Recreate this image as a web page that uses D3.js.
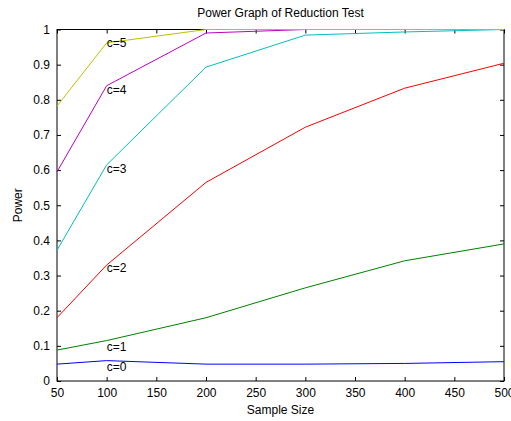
<!DOCTYPE html>
<html>
<head>
<meta charset="utf-8">
<script src="https://cdn.jsdelivr.net/npm/d3@7"></script>
<style>
  body { margin: 0; background: #fff; overflow: hidden; }
  text { font-family: "Liberation Sans", Arial, sans-serif; fill: #000; }
</style>
</head>
<body>
<script>
// sample sizes on the x axis
var sampleSizes = [50, 100, 200, 300, 400, 500];

// power for each effect size c
var powerC0 = [0.048, 0.058, 0.048, 0.048, 0.050, 0.055];
var powerC1 = [0.088, 0.115, 0.180, 0.265, 0.342, 0.390];
var powerC2 = [0.180, 0.330, 0.565, 0.722, 0.833, 0.904];
var powerC3 = [0.372, 0.615, 0.893, 0.984, 0.993, 1.000];
var powerC4 = [0.595, 0.840, 0.990, 1.000, 1.000, 1.000];
var powerC5 = [0.782, 0.962, 1.000, 1.000, 1.000, 1.000];

var seriesNames = ["c=0", "c=1", "c=2", "c=3", "c=4", "c=5"];
var labelY = [0.041, 0.098, 0.321, 0.603, 0.828, 0.962];   // where the text labels sit (at n=100)
var labelX = 100;

var xTicks = [50, 100, 150, 200, 250, 300, 350, 400, 450, 500];
var yTicks = [0, 0.1, 0.2, 0.3, 0.4, 0.5, 0.6, 0.7, 0.8, 0.9, 1];

var allSeries = [powerC0, powerC1, powerC2, powerC3, powerC4, powerC5];
var colors = ["#0000ff", "#008000", "#ff0000", "#00bfbf", "#bf00bf", "#bfbf00"]; // matlab colour order

var W = 511, H = 421;
// NB: can't call these top/left etc, window.top is read only
var axL = 57, axR = 504, axT = 29.5, axB = 381;

var svg = d3.select("body").append("svg").attr("width", W).attr("height", H);

var x = d3.scaleLinear().domain([50, 500]).range([axL, axR]);
var y = d3.scaleLinear().domain([0, 1]).range([axB, axT]);

// box + inward ticks on all four sides
svg.append("rect")
  .attr("x", axL).attr("y", axT)
  .attr("width", axR - axL).attr("height", axB - axT)
  .attr("fill", "none").attr("stroke", "#000").attr("stroke-width", 1);

function fmtX(d) { return d; }
function fmtY(d) { return d === 0 ? "0" : d === 1 ? "1" : d3.format(".1f")(d); }

var xAxis = d3.axisBottom(x).tickValues(xTicks).tickSizeInner(-4).tickSizeOuter(0).tickPadding(7).tickFormat(fmtX);
var yAxis = d3.axisLeft(y).tickValues(yTicks).tickSizeInner(-4).tickSizeOuter(0).tickPadding(7).tickFormat(fmtY);

svg.append("g").attr("transform", "translate(0," + axB + ")").call(xAxis);
svg.append("g").attr("transform", "translate(" + axL + ",0)").call(yAxis);
svg.append("g").attr("transform", "translate(0," + axT + ")")
  .call(d3.axisTop(x).tickValues(xTicks).tickSizeInner(-4).tickSizeOuter(0).tickFormat(""));
svg.append("g").attr("transform", "translate(" + axR + ",0)")
  .call(d3.axisRight(y).tickValues(yTicks).tickSizeInner(-4).tickSizeOuter(0).tickFormat(""));

svg.selectAll(".domain").remove();
svg.selectAll(".tick line").attr("stroke", "#000");
svg.selectAll(".tick text").style("font-size", "12px").attr("fill", "#000");

// lines
var line = d3.line()
  .x(function(d, i) { return x(sampleSizes[i]); })
  .y(function(d) { return y(d); });

svg.selectAll("path.series")
  .data(allSeries)
  .enter()
  .append("path")
  .attr("class", "series")
  .attr("d", line)
  .attr("fill", "none")
  .attr("stroke", function(d, i) { return colors[i]; })
  .attr("stroke-width", 1);

// c=.. labels
svg.selectAll("text.lbl")
  .data(seriesNames)
  .enter()
  .append("text")
  .attr("class", "lbl")
  .attr("x", x(labelX))
  .attr("y", function(d, i) { return y(labelY[i]); })
  .attr("dy", "0.35em")
  .style("font-size", "12px")
  .text(function(d) { return d; });

svg.append("text")
  .attr("x", (axL + axR) / 2).attr("y", 17)
  .attr("text-anchor", "middle").style("font-size", "12px")
  .text("Power Graph of Reduction Test");

svg.append("text")
  .attr("x", (axL + axR) / 2).attr("y", 414)
  .attr("text-anchor", "middle").style("font-size", "12px")
  .text("Sample Size");

svg.append("text")
  .attr("transform", "translate(22," + ((axT + axB) / 2) + ") rotate(-90)")
  .attr("text-anchor", "middle").style("font-size", "12px")
  .text("Power");
</script>
</body>
</html>
